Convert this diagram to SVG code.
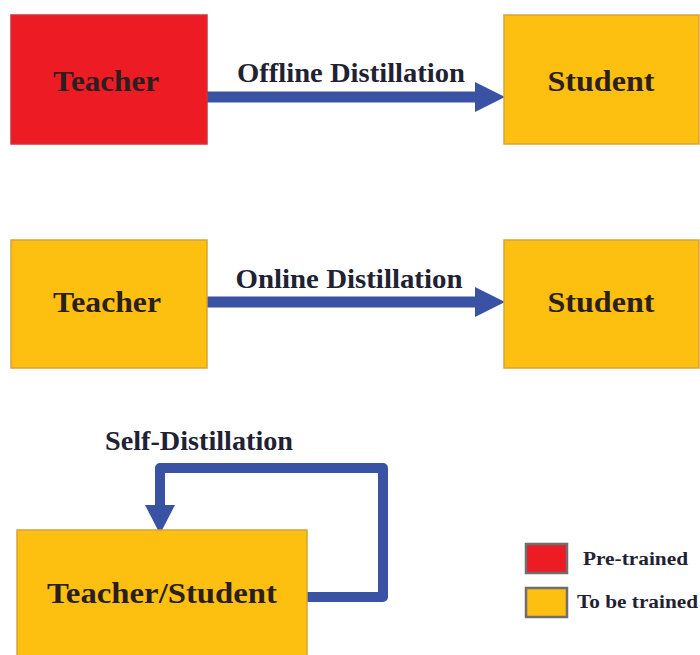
<svg xmlns="http://www.w3.org/2000/svg" width="700" height="655" viewBox="0 0 700 655">
<style>
.bg{fill:#ffffff}
.red{fill:#ED1C24;stroke:#C9343A;stroke-width:1.5}
.yel{fill:#FDBF10;stroke:#D4A43A;stroke-width:1.5}
.lg{stroke:#6E6E6E;stroke-width:2.5}
.nt{font-family:"Liberation Serif","Times New Roman",serif;font-weight:bold;font-size:30px;fill:#2A1E1E;text-anchor:middle}
.lt{font-family:"Liberation Serif","Times New Roman",serif;font-weight:bold;font-size:27px;fill:#1F2233;text-anchor:middle}
.gt{font-family:"Liberation Serif","Times New Roman",serif;font-weight:bold;font-size:18px;fill:#1F2233}
.ln{fill:none;stroke:#3A52A4;stroke-width:11}
.hd{fill:#3A52A4}
</style>
<rect class="bg" x="0" y="0" width="700" height="655"/>
<g id="connectors">
  <line class="ln" x1="207" y1="97" x2="478" y2="97"/>
  <polygon class="hd" points="475,82 505,97 475,112"/>
  <text class="lt" x="351" y="82" textLength="228" lengthAdjust="spacingAndGlyphs">Offline Distillation</text>
  <line class="ln" x1="207" y1="302" x2="478" y2="302"/>
  <polygon class="hd" points="475,287 505,302 475,317"/>
  <text class="lt" x="349" y="288" textLength="227" lengthAdjust="spacingAndGlyphs">Online Distillation</text>
  <polyline class="ln" stroke-linejoin="round" stroke-linecap="round" points="306,597 383,597 383,468 160,468 160,508" style="stroke-width:10"/>
  <polygon class="hd" points="145,505 175,505 160,534"/>
  <text class="lt" x="199" y="450" textLength="188" lengthAdjust="spacingAndGlyphs">Self-Distillation</text>
</g>
<g id="teacher1">
  <rect class="red" x="11" y="15" width="196" height="129"/>
  <text class="nt" x="106" y="91" textLength="106" lengthAdjust="spacingAndGlyphs">Teacher</text>
</g>
<g id="student1">
  <rect class="yel" x="504" y="15" width="195" height="129"/>
  <text class="nt" x="601" y="91" textLength="107" lengthAdjust="spacingAndGlyphs">Student</text>
</g>
<g id="teacher2">
  <rect class="yel" x="11" y="240" width="196" height="128"/>
  <text class="nt" x="107" y="312" textLength="108" lengthAdjust="spacingAndGlyphs">Teacher</text>
</g>
<g id="student2">
  <rect class="yel" x="504" y="240" width="195" height="128"/>
  <text class="nt" x="601" y="312" textLength="107" lengthAdjust="spacingAndGlyphs">Student</text>
</g>
<g id="teacherstudent">
  <rect class="yel" x="17" y="530" width="290" height="130"/>
  <text class="nt" x="162" y="603" textLength="230" lengthAdjust="spacingAndGlyphs">Teacher/Student</text>
</g>
<g id="legend">
  <rect class="red lg" x="526" y="544" width="41" height="29"/>
  <text class="gt" x="583" y="565" textLength="105" lengthAdjust="spacingAndGlyphs">Pre-trained</text>
  <rect class="yel lg" x="526" y="588" width="41" height="29"/>
  <text class="gt" x="577" y="608" textLength="121" lengthAdjust="spacingAndGlyphs">To be trained</text>
</g>
</svg>
